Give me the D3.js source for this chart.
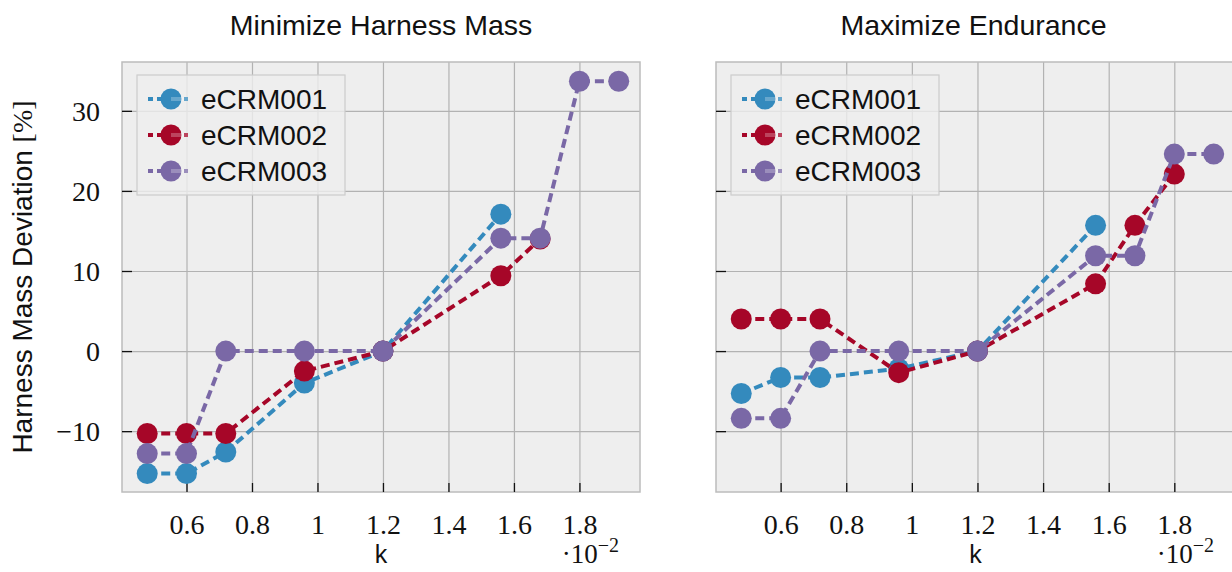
<!DOCTYPE html>
<html>
<head>
<meta charset="utf-8">
<script src="https://cdn.jsdelivr.net/npm/d3@7"></script>
<style>
  body { margin: 0; background: #fff; }
</style>
</head>
<body>
<main></main>
<script>
// data
const kValues = [0.48, 0.6, 0.72, 0.96, 1.2, 1.56, 1.68, 1.8, 1.92];
const seriesNames = ['eCRM001', 'eCRM002', 'eCRM003'];
const panelTitles = ['Minimize Harness Mass', 'Maximize Endurance'];

const massCrm001 = [-15.3, -15.3, -12.6, -4.0, 0, 17.1];
const massCrm002 = [-10.3, -10.3, -10.3, -2.5, 0, 9.4, 14.0];
const massCrm003 = [-12.8, -12.8, 0, 0, 0, 14.1, 14.1, 33.7, 33.7];

const enduranceCrm001 = [-5.3, -3.3, -3.3, -2.2, 0, 15.7];
const enduranceCrm002 = [4.0, 4.0, 4.0, -2.7, 0, 8.4, 15.7, 22.1];
const enduranceCrm003 = [-8.4, -8.4, 0, 0, 0, 11.9, 11.9, 24.6, 24.6];

const xTicks = [0.6, 0.8, 1, 1.2, 1.4, 1.6, 1.8];
const yTicks = [-10, 0, 10, 20, 30];

const sizeOfSVG = { width: 1232, height: 572 };
const colors = ['#348ABD', '#A60628', '#7A68A6'];
const SANS = '"Liberation Sans", Arimo, Arial, Helvetica, sans-serif';
const SERIF = '"Liberation Serif", Tinos, "Times New Roman", "DejaVu Serif", serif';

const panels = [
    { left: 122, right: 640, series: [massCrm001, massCrm002, massCrm003], showYLabels: true },
    { left: 716, right: 1235, series: [enduranceCrm001, enduranceCrm002, enduranceCrm003], showYLabels: false }
];
const plotTop = 62, plotBottom = 492;

const svg = d3.select('main')
    .append('svg')
    .attr('width', sizeOfSVG.width)
    .attr('height', sizeOfSVG.height);

const yScale = d3.scaleLinear()
    .domain([-17.6, 36.1])
    .range([plotBottom, plotTop]);

const fmtTick = d => d < 0 ? '\u2212' + Math.abs(d) : String(d);

const drawPanel = (panel, idx) => {
    const xScale = d3.scaleLinear()
        .domain([0.403, 1.985])
        .range([panel.left, panel.right]);

    const g = svg.append('g');

    // background
    g.append('rect')
        .attr('x', panel.left).attr('y', plotTop)
        .attr('width', panel.right - panel.left)
        .attr('height', plotBottom - plotTop)
        .attr('fill', '#eeeeee');

    // grid
    g.append('g')
        .attr('transform', `translate(0,${plotBottom})`)
        .call(d3.axisBottom(xScale).tickValues(xTicks).tickSize(-(plotBottom - plotTop)).tickFormat(''))
        .call(a => a.select('.domain').remove())
        .call(a => a.selectAll('line').attr('stroke', '#b2b2b2').attr('stroke-width', 1.2));
    g.append('g')
        .attr('transform', `translate(${panel.left},0)`)
        .call(d3.axisLeft(yScale).tickValues(yTicks).tickSize(-(panel.right - panel.left)).tickFormat(''))
        .call(a => a.select('.domain').remove())
        .call(a => a.selectAll('line').attr('stroke', '#b2b2b2').attr('stroke-width', 1.2));

    // frame
    g.append('rect')
        .attr('x', panel.left).attr('y', plotTop)
        .attr('width', panel.right - panel.left)
        .attr('height', plotBottom - plotTop)
        .attr('fill', 'none')
        .attr('stroke', '#bcbcbc')
        .attr('stroke-width', 1.5);

    // inward ticks + labels
    const xAxis = g.append('g')
        .attr('transform', `translate(0,${plotBottom})`)
        .call(d3.axisBottom(xScale).tickValues(xTicks).tickSizeInner(-9).tickSizeOuter(0).tickPadding(22).tickFormat(d => String(d)));
    xAxis.select('.domain').remove();
    xAxis.selectAll('line').attr('stroke', '#111').attr('stroke-width', 1.3);
    xAxis.selectAll('text')
        .style('font-family', SERIF)
        .style('font-size', '28px')
        .attr('fill', '#111')
        .attr('dy', '0.71em');

    const yAxis = g.append('g')
        .attr('transform', `translate(${panel.left},0)`)
        .call(d3.axisLeft(yScale).tickValues(yTicks).tickSizeInner(-10).tickSizeOuter(0).tickPadding(22)
            .tickFormat(d => panel.showYLabels ? fmtTick(d) : ''));
    yAxis.select('.domain').remove();
    yAxis.selectAll('line').attr('stroke', '#111').attr('stroke-width', 1.3);
    yAxis.selectAll('text')
        .style('font-family', SERIF)
        .style('font-size', '28px')
        .attr('fill', '#111')
        .attr('dy', '0.34em');

    // title
    svg.append('text')
        .style('font-family', SANS)
        .style('font-size', '28.5px')
        .attr('x', (panel.left + Math.min(panel.right, 1231)) / 2)
        .attr('y', 35)
        .attr('text-anchor', 'middle')
        .attr('fill', '#111')
        .text(panelTitles[idx]);

    // x label
    svg.append('text')
        .style('font-family', SANS)
        .style('font-size', '25px')
        .attr('x', (panel.left + panel.right) / 2)
        .attr('y', 563)
        .attr('text-anchor', 'middle')
        .attr('fill', '#111')
        .text('k');

    // offset text
    const off = svg.append('text')
        .style('font-family', SERIF)
        .style('font-size', '27px')
        .attr('x', panel.right - 21)
        .attr('y', 563)
        .attr('text-anchor', 'end')
        .attr('fill', '#111');
    off.append('tspan').text('\u00b710');
    off.append('tspan').attr('dy', -11).style('font-size', '20px').text('\u22122');

    // series
    const line = d3.line()
        .x((d, i) => xScale(kValues[i]))
        .y(d => yScale(d));

    panel.series.forEach((vals, s) => {
        g.append('path')
            .datum(vals)
            .attr('d', line)
            .attr('fill', 'none')
            .attr('stroke', colors[s])
            .attr('stroke-width', 4)
            .attr('stroke-dasharray', '9,5');
        g.selectAll(null)
            .data(vals)
            .enter()
            .append('circle')
            .attr('cx', (d, i) => xScale(kValues[i]))
            .attr('cy', d => yScale(d))
            .attr('r', 10.5)
            .attr('fill', colors[s]);
    });

    // legend
    const lx = panel.left + 15, ly = 75;
    const legend = g.append('g');
    legend.append('rect')
        .attr('x', lx).attr('y', ly)
        .attr('width', 208).attr('height', 120)
        .attr('fill', 'rgba(238,238,238,0.8)')
        .attr('stroke', '#cccccc')
        .attr('stroke-width', 1.2);
    seriesNames.forEach((name, s) => {
        const cy = ly + 24 + s * 36;
        legend.append('line')
            .attr('x1', lx + 11).attr('x2', lx + 51)
            .attr('y1', cy).attr('y2', cy)
            .attr('stroke', colors[s])
            .attr('stroke-width', 4)
            .attr('stroke-dasharray', '5,4');
        legend.append('circle')
            .attr('cx', lx + 34).attr('cy', cy).attr('r', 10.5)
            .attr('fill', colors[s]);
        legend.append('rect')
            .attr('x', lx + 34).attr('y', cy - 2)
            .attr('width', 17).attr('height', 4)
            .attr('fill', '#fff').attr('opacity', 0.25);
        legend.append('text')
            .style('font-family', SANS)
            .style('font-size', '28px')
            .attr('x', lx + 64)
            .attr('y', cy)
            .attr('dy', '0.36em')
            .attr('fill', '#111')
            .text(name);
    });
};

panels.forEach(drawPanel);

// y label
const yl = svg.append('text')
    .attr('transform', `translate(32,${(plotTop + plotBottom) / 2}) rotate(-90)`)
    .attr('text-anchor', 'middle')
    .attr('fill', '#111')
    .style('font-size', '28px');
yl.append('tspan').style('font-family', SANS).text('Harness Mass Deviation ');
yl.append('tspan').style('font-family', SERIF).text('[%]');
</script>
</body>
</html>
